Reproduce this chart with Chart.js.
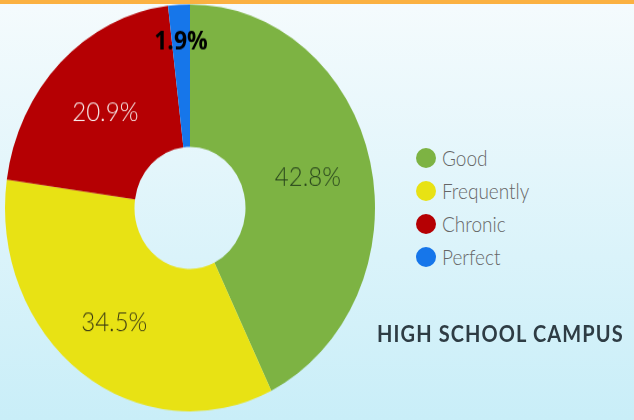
<!DOCTYPE html>
<html>
<head>
<meta charset="utf-8">
<script src="https://cdn.jsdelivr.net/npm/chart.js@4"></script>
<style>
  html, body { margin: 0; padding: 0; }
  body {
    width: 634px; height: 420px; overflow: hidden; position: relative;
    background: linear-gradient(#f5fbfd, #c9eef8);
    font-family: Lato, "Open Sans", sans-serif;
  }
  .topbar { position: absolute; left: 0; top: 0; width: 634px; height: 4px; background: #fbb142; }
  .chartBox {
    position: absolute; left: 0; top: 0; width: 380px; height: 378px;
    transform: scaleY(1.1); transform-origin: 0 0;
  }
  #legend { position: absolute; left: 416px; top: 141px; }
  #legend .item { display: flex; align-items: center; height: 33px; }
  #legend .dot { width: 20px; height: 20px; border-radius: 50%; margin-right: 6px; }
  #legend .txt { font-size: 19px; font-weight: 300; color: #666; transform: scaleY(1.1); }
  .campus {
    position: absolute; left: 377px; top: 320px; font-size: 20px; font-weight: 700;
    color: #2e3c44; letter-spacing: 1.1px; transform: scaleY(1.1); transform-origin: 0 0;
  }
</style>
</head>
<body>
<div class="topbar"></div>
<div class="chartBox"><canvas id="pie" width="380" height="378"></canvas></div>
<div id="legend"></div>
<div class="campus">HIGH SCHOOL CAMPUS</div>
<script>
const categories = ['Good', 'Frequently', 'Chronic', 'Perfect'];
const values = [42.8, 34.5, 20.9, 1.9];
const sliceColors = ['#7db343', '#e8e214', '#b50003', '#1676ea'];
const labelColors = ['#28451c', '#3a3a12', '#f7e8e8', '#000000'];

// draws the percentage text on each slice
const sliceLabels = {
  id: 'sliceLabels',
  afterDatasetsDraw(chart, args, opts) {
    const ctx = chart.ctx;
    const meta = chart.getDatasetMeta(0);
    meta.data.forEach((arc, i) => {
      const p = arc.getProps(['x', 'y', 'startAngle', 'endAngle', 'innerRadius', 'outerRadius'], true);
      const mid = (p.startAngle + p.endAngle) / 2;
      const r = opts.radius[i] || (p.innerRadius + p.outerRadius) / 2;
      ctx.save();
      ctx.font = opts.fonts[i];
      ctx.fillStyle = labelColors[i];
      ctx.textAlign = 'center';
      ctx.textBaseline = 'middle';
      ctx.fillText(values[i].toFixed(1) + '%', p.x + Math.cos(mid) * r, p.y + Math.sin(mid) * r);
      ctx.restore();
    });
  }
};

const chart = new Chart(document.getElementById('pie'), {
  type: 'doughnut',
  data: {
    labels: categories,
    datasets: [{ data: values, backgroundColor: sliceColors, borderWidth: 0 }]
  },
  options: {
    responsive: false,
    animation: false,
    cutout: '30%',
    layout: { padding: 4 },
    plugins: {
      legend: { display: false },
      tooltip: { enabled: false },
      sliceLabels: {
        radius: [121, 129, 121, 151],
        fonts: ['300 24px Lato', '300 24px Lato', '300 24px Lato', 'bold 23px "Open Sans"']
      }
    }
  },
  plugins: [sliceLabels]
});

const legendEl = document.getElementById('legend');
categories.forEach((c, i) => {
  const row = document.createElement('div');
  row.className = 'item';
  row.innerHTML = '<span class="dot" style="background:' + sliceColors[i] + '"></span><span class="txt">' + c + '</span>';
  legendEl.appendChild(row);
});
</script>
</body>
</html>
